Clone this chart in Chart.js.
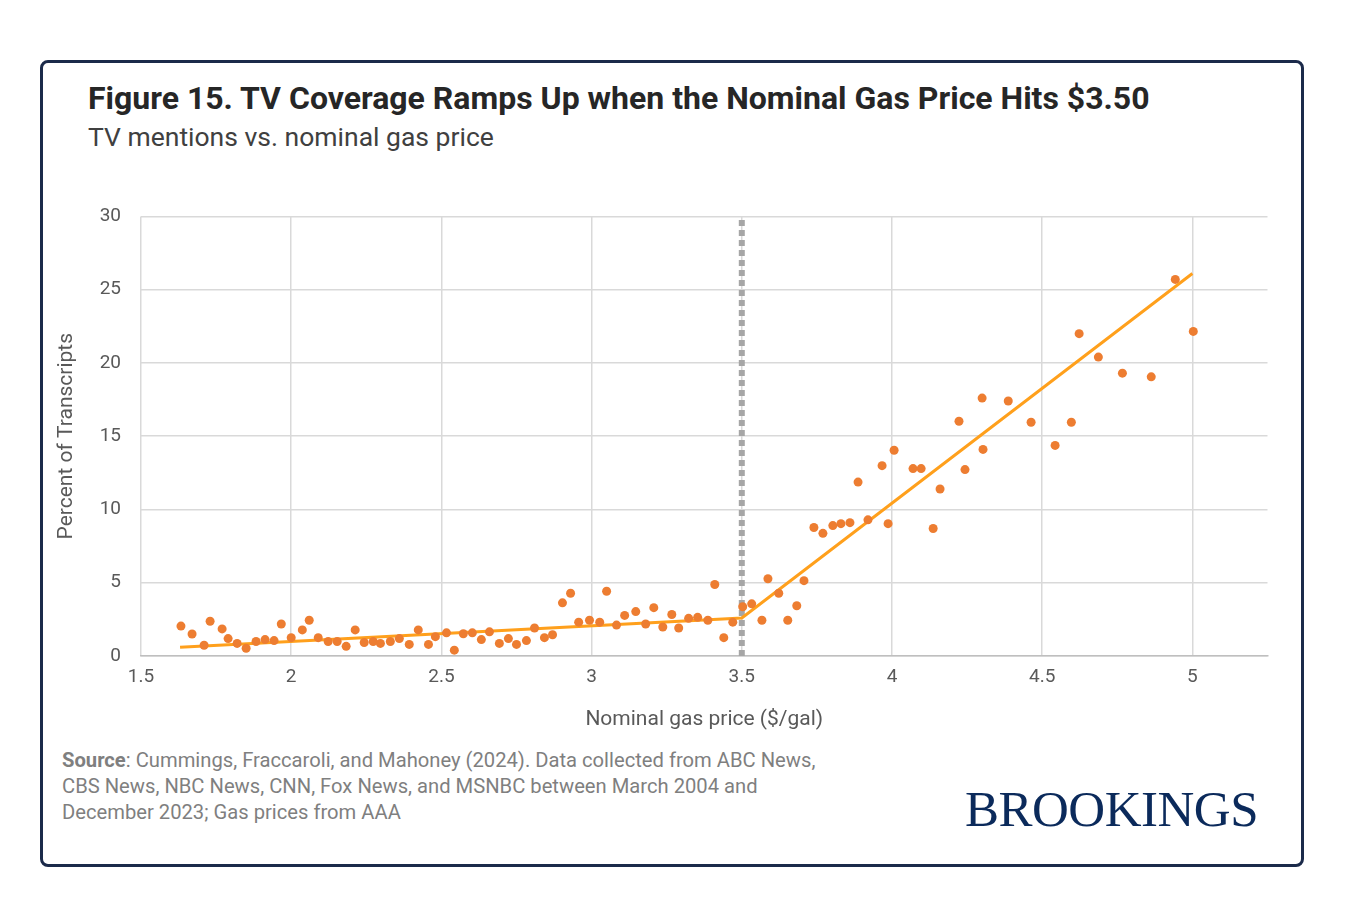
<!DOCTYPE html>
<html><head><meta charset="utf-8">
<script src="https://cdn.jsdelivr.net/npm/chart.js@4"></script>
<style>
body{margin:0;background:#fff;font-family:Roboto,sans-serif;}
#card{position:absolute;left:40px;top:60px;width:1258px;height:801px;border:3px solid #1b2a4a;border-radius:8px;}
#title{position:absolute;left:88px;top:79px;font-size:32px;font-weight:bold;color:#262626;}
#sub{position:absolute;left:88px;top:121px;font-size:26.5px;color:#404040;}
#wrap{position:absolute;left:50px;top:185px;width:1222px;height:551px;}
#src{position:absolute;left:62px;top:747px;font-size:20.2px;line-height:26px;color:#7f7f7f;}
#logo{position:absolute;left:965px;top:780px;font-family:"Liberation Serif",serif;font-size:51px;color:#0b2a5b;letter-spacing:-0.5px;}
</style></head><body>
<div id="card"></div>
<div id="title">Figure 15. TV Coverage Ramps Up when the Nominal Gas Price Hits $3.50</div>
<div id="sub">TV mentions vs. nominal gas price</div>
<div id="wrap"><canvas id="c"></canvas></div>
<div id="src"><b>Source</b>: Cummings, Fraccaroli, and Mahoney (2024). Data collected from ABC News,<br>CBS News, NBC News, CNN, Fox News, and MSNBC between March 2004 and<br>December 2023; Gas prices from AAA</div>
<div id="logo">BROOKINGS</div>
<script>
var gasPrice=[1.633,1.67,1.71,1.73,1.77,1.79,1.82,1.85,1.883,1.913,1.943,1.967,2.0,2.037,2.06,2.09,2.123,2.153,2.183,2.213,2.243,2.273,2.297,2.33,2.36,2.393,2.423,2.457,2.48,2.517,2.543,2.573,2.603,2.633,2.66,2.693,2.723,2.75,2.783,2.81,2.843,2.87,2.903,2.93,2.957,2.993,3.027,3.05,3.083,3.11,3.147,3.18,3.207,3.237,3.267,3.29,3.323,3.353,3.387,3.41,3.44,3.47,3.503,3.533,3.567,3.587,3.623,3.653,3.683,3.707,3.74,3.77,3.803,3.83,3.86,3.887,3.92,3.967,3.987,4.007,4.07,4.097,4.137,4.16,4.223,4.243,4.3,4.303,4.387,4.463,4.543,4.597,4.623,4.687,4.767,4.863,4.943,5.003];
var pctTranscripts=[2.04,1.5,0.73,2.37,1.85,1.19,0.86,0.53,0.99,1.12,1.05,2.18,1.25,1.78,2.44,1.25,0.99,0.99,0.66,1.78,0.92,0.99,0.86,0.99,1.19,0.79,1.78,0.79,1.32,1.58,0.4,1.52,1.58,1.12,1.65,0.86,1.19,0.79,1.05,1.91,1.25,1.45,3.63,4.28,2.31,2.44,2.31,4.42,2.11,2.77,3.03,2.18,3.3,1.98,2.83,1.91,2.57,2.64,2.44,4.88,1.25,2.31,3.36,3.56,2.44,5.27,4.28,2.44,3.43,5.14,8.77,8.37,8.9,9.03,9.1,11.87,9.29,12.99,9.03,14.04,12.79,12.79,8.7,11.4,16.02,12.72,17.6,14.1,17.4,15.95,14.37,15.95,22.0,20.4,19.3,19.05,25.7,22.15];
var fitX=[1.63,3.5,5.0];
var fitY=[0.6,2.6,26.1];
var thresholdX=3.5;
var xTicks=[1.5,2,2.5,3,3.5,4,4.5,5];

var pts=gasPrice.map(function(x,i){return {x:x,y:pctTranscripts[i]};});
var fit=fitX.map(function(x,i){return {x:x,y:fitY[i]};});

new Chart(document.getElementById('c'),{
  type:'scatter',
  data:{datasets:[
    {type:'line',data:[{x:thresholdX,y:0},{x:thresholdX,y:30}],borderColor:'#a6a6a6',borderWidth:6,borderDash:[6,4],pointRadius:0,order:3},
    {type:'line',data:fit,borderColor:'#ffa01c',borderWidth:3,pointRadius:0,order:2},
    {data:pts,backgroundColor:'#ed7d31',borderWidth:0,pointRadius:4.5,order:1}
  ]},
  options:{
    responsive:true,maintainAspectRatio:false,animation:false,
    layout:{padding:{top:4,right:0}},
    plugins:{legend:{display:false},tooltip:{enabled:false}},
    scales:{
      x:{type:'linear',min:1.5,max:5.25,
        afterBuildTicks:function(a){a.ticks=xTicks.map(function(v){return {value:v};});},
        afterFit:function(a){a.height=80;},
        grid:{color:'#d9d9d9',lineWidth:1.5,drawTicks:false},border:{color:'#bfbfbf',width:1.5},
        ticks:{color:'#595959',font:{family:'Roboto',size:19},padding:10,callback:function(v){return String(v);}},
        title:{display:true,text:'Nominal gas price ($/gal)',color:'#595959',font:{family:'Roboto',size:21},padding:{top:8}}},
      y:{min:0,max:30,
        afterFit:function(a){a.width=91;},
        grid:{color:'#d9d9d9',lineWidth:1.5,drawTicks:false},border:{display:false},
        ticks:{stepSize:5,color:'#595959',font:{family:'Roboto',size:19},padding:20},
        title:{display:true,text:'Percent of Transcripts',color:'#595959',font:{family:'Roboto',size:21},padding:{bottom:0}}}
    }
  }
});
</script>
</body></html>
